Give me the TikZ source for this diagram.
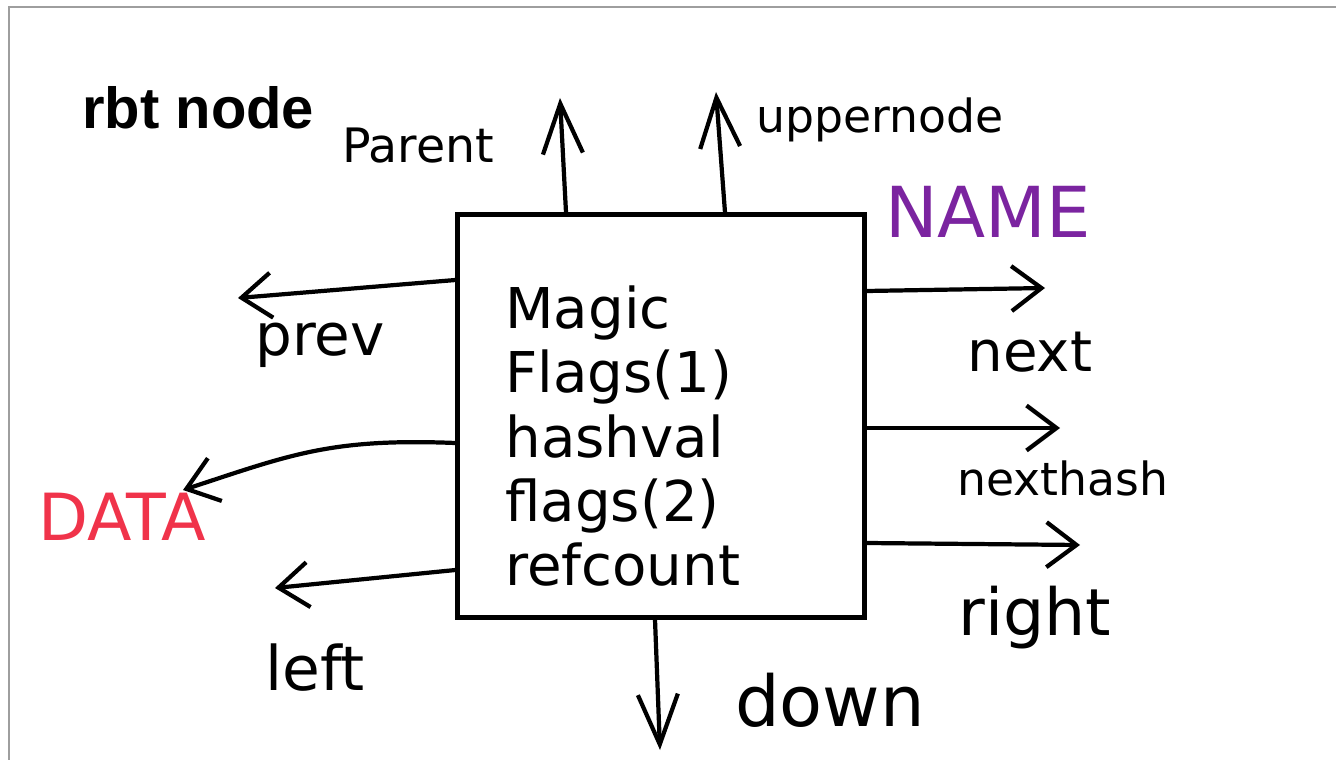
\documentclass[tikz,border=0pt]{standalone}
\usepackage{fontspec}
\usepackage{xcolor}
\usepackage{tikz}
\usetikzlibrary{arrows.meta, positioning}
\newfontfamily\handfont{DejaVu Sans}
\newfontfamily\titlefont{Liberation Sans}
\definecolor{NameViolet}{HTML}{7B24A0}
\definecolor{DataRed}{HTML}{F0334A}
\definecolor{FrameGrey}{HTML}{9E9E9E}
\newcommand{\handsize}[1]{\handfont\fontsize{#1}{#1}\selectfont}
\tikzset{
  hand/.style={inner sep=0pt, font=\handsize{#1}},
  hand/.default=30,
  ptr/.style={line width=2.4pt, line cap=round, line join=round, -{Straight Barb[length=6mm,width=9mm]}},
  vptr/.style={ptr, -{Straight Barb[length=1cm,width=8mm]}},
}

\begin{document}
\begin{tikzpicture}[x=0.02cm, y=-0.02cm]
      \useasboundingbox (0,0) rectangle (1336,760);
      \draw[FrameGrey, line width=0.8pt] (9,760) -- (9,7) -- (1336,7);

      \node[anchor=base west, inner sep=0pt, font=\titlefont\bfseries\fontsize{33}{40}\selectfont] (title) at (82,129) {rbt node};

      \node[draw, line width=2.4pt, minimum width=8.14cm, minimum height=8.06cm] (box) at (661,416) {};
      \node[anchor=north west, align=left, inner sep=0pt, font=\handfont\fontsize{32}{36.7}\selectfont] (fields) at (505,285) {Magic\\Flags(1)\\hashval\\flags(2)\\refcount};

      % labels round the box
      \node[hand=27] (par) at (418,146) {Parent};
      \node[hand=26] (upn) at (880,120) {uppernode};
      \node[hand=40, text=NameViolet] (nm) at (988,212) {NAME};
      \node[hand=33] (prv) at (320,345) {prev};
      \node[hand=37, text=DataRed] (dat) at (122,517) {DATA};
      \node[hand=35] (lft) at (315,668) {left};
      \node[hand=32] (nxt) at (1030,352) {next};
      \node[hand=26] (nxh) at (1063,478) {nexthash};
      \node[hand=37] (rgt) at (1035,618) {right};
      \node[hand=40] (dwn) at (830,700) {down};

      \coordinate (partip) at (560,98);
      \coordinate (upntip) at (716,92);
      \coordinate (prvtip) at (238,298);
      \coordinate (dattip) at (183,490);
      \coordinate (lfttip) at (275,588);
      \coordinate (nxttip) at (1045,288);
      \coordinate (nxhtip) at (1060,428);
      \coordinate (rgttip) at (1080,545);
      \coordinate (dwntip) at (660,750);

      \draw[vptr] (box.north -| 566,0) -- (partip);
      \draw[vptr] (box.north -| 725,0) -- (upntip);
      \draw[ptr] (box.west |- 0,280) -- (prvtip);
      \draw[ptr] (box.west |- 0,443) .. controls (330,438) and (290,455) .. (dattip);
      \draw[ptr] (box.west |- 0,570) -- (lfttip);
      \draw[ptr] (box.east |- 0,291) -- (nxttip);
      \draw[ptr] (box.east |- 0,428) -- (nxhtip);
      \draw[ptr] (box.east |- 0,543) -- (rgttip);
      \draw[vptr] (box.south -| 655,0) -- (dwntip);
    \end{tikzpicture}
\end{document}
